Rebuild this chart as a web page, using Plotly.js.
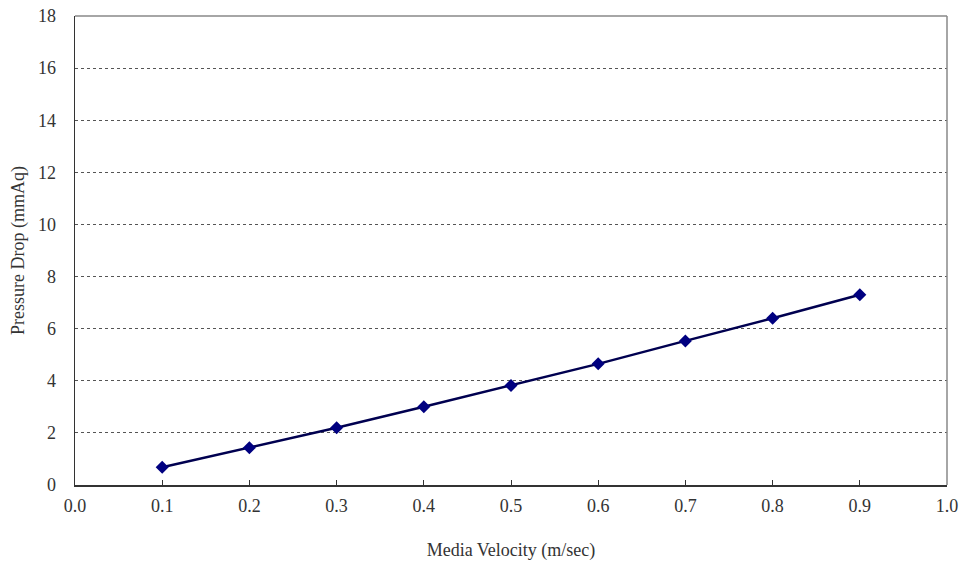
<!DOCTYPE html>
<html><head><meta charset="utf-8">
<script src="https://cdn.plot.ly/plotly-3.0.1.min.js"></script>
<style>html,body{margin:0;padding:0;background:#fff}#chart{width:963px;height:561px}</style>
</head><body><div id="chart"></div>
<script>
const velocity = [0.1, 0.2, 0.3, 0.4, 0.5, 0.6, 0.7, 0.8, 0.9];
const pressureDrop = [0.68, 1.43, 2.2, 3.0, 3.82, 4.65, 5.53, 6.4, 7.3];
const xTicks = [0, 0.1, 0.2, 0.3, 0.4, 0.5, 0.6, 0.7, 0.8, 0.9, 1.0];
const xTickText = ["0.0","0.1","0.2","0.3","0.4","0.5","0.6","0.7","0.8","0.9","1.0"];

const font = {family: '"Liberation Serif", "Times New Roman", serif', color: '#333', size: 18};

Plotly.newPlot('chart', [{
  x: velocity, y: pressureDrop, type: 'scatter', mode: 'lines+markers',
  line: {color: '#000050', width: 2.5},
  marker: {symbol: 'diamond', size: 10, color: '#000080'},
  cliponaxis: false, showlegend: false
}], {
  width: 963, height: 561,
  margin: {l: 75, r: 16, t: 16, b: 76},
  paper_bgcolor: '#fff', plot_bgcolor: '#fff',
  font: font,
  xaxis: {
    range: [0, 1], tickvals: xTicks, ticktext: xTickText,
    showgrid: false, zeroline: false,
    showline: true, linecolor: '#333', linewidth: 1.5, mirror: false,
    ticks: 'inside', ticklen: 5, tickcolor: '#333',
    ticklabelstandoff: 4,
    tickfont: {size: 18},
    title: {text: 'Media Velocity (m/sec)', font: {size: 18}, standoff: 28}
  },
  yaxis: {
    range: [0, 18], dtick: 2,
    showgrid: true, gridcolor: '#555', griddash: 'dot', gridwidth: 1,
    zeroline: false,
    showline: true, linecolor: '#333', linewidth: 1.5,
    ticks: '', ticklabelstandoff: 14,
    tickfont: {size: 18},
    title: {text: 'Pressure Drop (mmAq)', font: {size: 18}, standoff: 8}
  },
  shapes: [
    {type: 'line', xref: 'paper', yref: 'paper', x0: 0, x1: 1, y0: 1, y1: 1, line: {color: '#888', width: 1.5}},
    {type: 'line', xref: 'paper', yref: 'paper', x0: 1, x1: 1, y0: 0, y1: 1, line: {color: '#888', width: 1.5}}
  ]
}, {displayModeBar: false, staticPlot: true});
</script></body></html>
